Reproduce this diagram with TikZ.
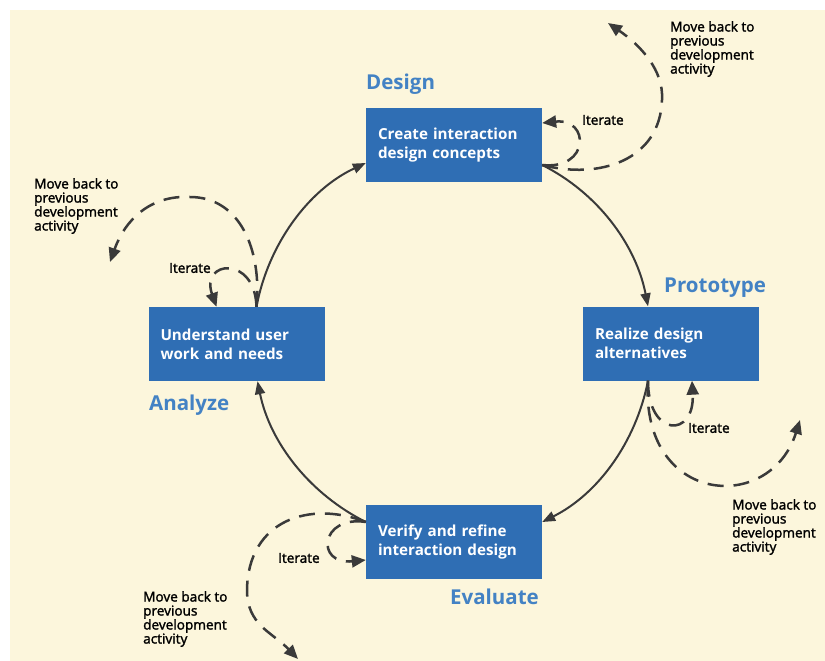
\documentclass[tikz,border=0pt]{standalone}
\usepackage{fontspec}
\setmainfont{Open Sans}
\newfontfamily\notefont{Open Sans}[FakeBold=1.8]
\usetikzlibrary{arrows.meta}

\definecolor{cream}{HTML}{FCF6DC}
\definecolor{stageblue}{HTML}{2F6EB4}
\definecolor{headblue}{HTML}{4382C4}
\definecolor{arrowgray}{HTML}{3A3A3A}

\tikzset{
  stage/.style={fill=stageblue, text=white, font=\bfseries\fontsize{15.2}{19}\selectfont,
    align=left, text width=152pt, minimum width=176pt, minimum height=74pt, inner xsep=12pt},
  phase/.style={anchor=west, text=headblue, font=\bfseries\fontsize{20.5}{22}\selectfont, inner sep=0pt},
  note/.style={anchor=north west, align=left, font=\notefont\fontsize{13.6}{14}\selectfont, inner sep=0pt},
  iterlbl/.style={anchor=west, font=\notefont\fontsize{13.6}{14}\selectfont, inner sep=0pt},
  flow/.style={draw=arrowgray, line width=2pt, -{Triangle[length=13pt,width=10pt]}},
  iterloop/.style={draw=arrowgray, line width=2.5pt, dash pattern=on 16pt off 10pt,
    -{Triangle[length=14pt,width=12pt]}},
}

\begin{document}
\begin{tikzpicture}[x=1pt, y=-1pt]
        % Background
        \fill[white] (0,0) rectangle (825,661);
        \fill[cream] (10,10) rectangle (825,661);
        \useasboundingbox (0,0) rectangle (825,661);

        % Stages
        \node[stage] (design) at (454,145) {Create interaction\\design concepts};
        \node[stage] (proto) at (671,343.5) {Realize design\\alternatives};
        \node[stage] (analyze) at (236.5,344) {Understand user\\work and needs};
        \node[stage] (eval) at (454,542) {Verify and refine\\interaction design};

        % Phase names
        \node[phase] (designlbl) at (366,84) {Design};
        \node[phase] (protolbl) at (664,288) {Prototype};
        \node[phase] (analyzelbl) at (149,405) {Analyze};
        \node[phase] (evallbl) at (450,597) {Evaluate};

        % Main cycle
        \draw[flow] ([xshift=20pt]analyze.north) .. controls (268,245) and (308,190) .. ([yshift=-18pt]design.west);
        \draw[flow] ([yshift=-20pt]design.east) .. controls (598,193) and (636,245) .. ([xshift=-23pt]proto.north);
        \draw[flow] ([xshift=-23pt]proto.south) .. controls (636,442) and (598,494) .. ([yshift=20pt]eval.east);
        \draw[flow] ([yshift=20pt]eval.west) .. controls (310,494) and (270,443) .. ([xshift=21pt]analyze.south);

        % Design: iterate / move back
        \coordinate (designback) at (608,23);
        \draw[iterloop] ([yshift=-20pt]design.east) .. controls (590,170) and (590,118) .. ([yshift=22pt]design.east);
        \draw[iterloop] ([yshift=-20pt]design.east) .. controls (600,180) and (660,160) .. (662,100)
            .. controls (664,70) and (640,45) .. (designback);
        \node[iterlbl] (designit) at (582,120) {Iterate};
        \node[note] (designnote) at (670,21) {Move back to\\previous\\development\\activity};

        % Analyze: iterate / move back
        \coordinate (analyzeback) at (110,262);
        \draw[iterloop] ([xshift=20pt]analyze.north) .. controls (255,255) and (200,260) .. ([xshift=-20pt]analyze.north);
        \draw[iterloop] ([xshift=20pt]analyze.north) .. controls (262,250) and (240,197) .. (190,197)
            .. controls (150,195) and (125,220) .. (analyzeback);
        \node[iterlbl] (analyzeit) at (169,268) {Iterate};
        \node[note] (analyzenote) at (34,178) {Move back to\\previous\\development\\activity};

        % Prototype: iterate / move back
        \coordinate (protoback) at (800,420);
        \draw[iterloop] ([xshift=-23pt]proto.south) .. controls (648,438) and (695,438) .. ([xshift=21pt]proto.south);
        \draw[iterloop] ([xshift=-23pt]proto.south) .. controls (640,505) and (770,515) .. (protoback);
        \node[iterlbl] (protoit) at (688,428) {Iterate};
        \node[note] (protonote) at (732,499) {Move back to\\previous\\development\\activity};

        % Evaluate: iterate / move back
        \coordinate (evalback) at (298,659);
        \draw[iterloop] ([yshift=20pt]eval.west) .. controls (320,515) and (315,565) .. ([yshift=-18pt]eval.west);
        \draw[iterloop] ([yshift=20pt]eval.west) .. controls (310,500) and (248,520) .. (247,590)
            .. controls (247,625) and (272,632) .. (evalback);
        \node[iterlbl] (evalit) at (278,558) {Iterate};
        \node[note] (evalnote) at (143,591) {Move back to\\previous\\development\\activity};
\end{tikzpicture}
\end{document}
